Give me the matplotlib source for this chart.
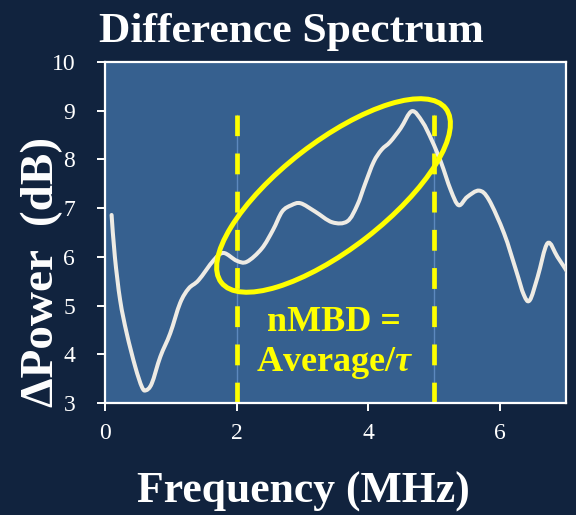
import matplotlib
matplotlib.use("Agg")
import matplotlib.pyplot as plt
from matplotlib.patches import Ellipse, PathPatch
from matplotlib.path import Path
from matplotlib.transforms import ScaledTranslation

# Difference spectrum (dB) versus frequency (MHz)
freq_mhz = [0.10, 0.15, 0.23, 0.33, 0.46, 0.56, 0.62, 0.71, 0.84, 0.99,
            1.14, 1.27, 1.42, 1.65, 1.80, 2.00, 2.155, 2.38, 2.55, 2.69,
            2.83, 2.97, 3.19, 3.45, 3.68, 3.83, 3.95, 4.08, 4.20, 4.33,
            4.49, 4.66, 4.82, 4.96, 5.10, 5.25, 5.37, 5.50, 5.68, 5.83,
            6.06, 6.24, 6.36, 6.45, 6.57, 6.72, 6.87, 7.02]
delta_power_db = [6.86, 6.00, 5.11, 4.43, 3.74, 3.33, 3.26, 3.40, 3.95, 4.43,
                  5.05, 5.35, 5.52, 5.93, 6.08, 5.92, 5.90, 6.17, 6.55, 6.93,
                  7.06, 7.10, 6.93, 6.71, 6.73, 7.06, 7.50, 7.95, 8.20, 8.36,
                  8.64, 8.99, 8.77, 8.40, 7.95, 7.37, 7.06, 7.23, 7.36, 7.17,
                  6.48, 5.73, 5.22, 5.11, 5.59, 6.28, 6.00, 5.69]

band_edges_mhz = [2.0, 5.0]
band_top_db = 8.91

x_ticks = [0, 2, 4, 6]
y_ticks = [3, 4, 5, 6, 7, 8, 9, 10]

BG = "#11233E"
FACE = "#36608F"
CURVE = "#EEEBE4"
YELLOW = "#FFFF00"
SERIF = ["Liberation Serif", "DejaVu Serif"]

plt.rcParams["font.family"] = SERIF
plt.rcParams["mathtext.fontset"] = "custom"
plt.rcParams["mathtext.it"] = "Liberation Serif:italic:bold"
plt.rcParams["mathtext.rm"] = "Liberation Serif:bold"
plt.rcParams["lines.scale_dashes"] = False


def smooth_path(xs, ys, tension=1.0 / 6.0):
    """Catmull-Rom style smoothed line through the points, as cubic Beziers."""
    pts = list(zip(xs, ys))
    n = len(pts)
    verts = [pts[0]]
    codes = [Path.MOVETO]
    for i in range(n - 1):
        p0 = pts[i - 1] if i > 0 else pts[i]
        p1 = pts[i]
        p2 = pts[i + 1]
        p3 = pts[i + 2] if i + 2 < n else pts[i + 1]
        c1 = (p1[0] + (p2[0] - p0[0]) * tension, p1[1] + (p2[1] - p0[1]) * tension)
        c2 = (p2[0] - (p3[0] - p1[0]) * tension, p2[1] - (p3[1] - p1[1]) * tension)
        verts += [c1, c2, p2]
        codes += [Path.CURVE4] * 3
    return Path(verts, codes)


fig = plt.figure(figsize=(5.76, 5.15), dpi=100, facecolor=BG)
ax = fig.add_axes([105 / 576, 1 - 403 / 515, 461 / 576, 341 / 515])
ax.set_facecolor(FACE)

# band markers
for xe in band_edges_mhz:
    ax.plot([xe, xe], [3.0, band_top_db], color="#5D89BE", lw=1.0, zorder=1.5)
    ax.plot([xe, xe], [3.0, band_top_db], color=YELLOW, lw=3.4,
            dashes=[15, 12.5], zorder=2, solid_capstyle="butt",
            dash_capstyle="butt")

# spectrum curve (smoothed line)
ax.add_patch(PathPatch(smooth_path(freq_mhz, delta_power_db), fill=False,
                       edgecolor=CURVE, lw=2.9, zorder=3,
                       joinstyle="round", capstyle="round"))

# ellipse highlighting the rising region (size in inches, centered in data)
ell_center = (3.47, 7.26)
ell = Ellipse((0, 0), width=2.84, height=1.07, angle=37.8, fill=False,
              edgecolor=YELLOW, lw=3.6, zorder=4,
              transform=fig.dpi_scale_trans + ScaledTranslation(
                  ell_center[0], ell_center[1], ax.transData))
ax.add_patch(ell)

ax.text(3.48, 4.47, "nMBD =", color=YELLOW, fontsize=26, fontweight="bold",
        ha="center", va="baseline", zorder=5)
ax.text(3.49, 3.65, r"Average/$\tau$", color=YELLOW, fontsize=26,
        fontweight="bold", ha="center", va="baseline", zorder=5)

ax.set_xlim(0, 7)
ax.set_ylim(3, 10)
ax.set_xticks(x_ticks)
ax.set_yticks(y_ticks)

for s in ax.spines.values():
    s.set_color("white")
    s.set_linewidth(1.6)

ax.tick_params(axis="both", colors="white", length=5.5, width=1.4,
               direction="out", labelsize=17)
ax.tick_params(axis="y", pad=16)
ax.tick_params(axis="x", pad=9)
for lab in ax.get_xticklabels() + ax.get_yticklabels():
    lab.set_fontfamily(SERIF)

fig.text(0.505, 1 - 41.7 / 515, "Difference Spectrum", color="white",
         fontsize=31.3, fontweight="bold", ha="center", va="baseline")
fig.text(303 / 576, 1 - 503 / 515, "Frequency (MHz)", color="white",
         fontsize=31.5, fontweight="bold", ha="center", va="baseline")
fig.text(42 / 576, 1 - 271.5 / 515, "\u0394Power  (dB)", color="white",
         fontsize=34, fontweight="bold", ha="center", va="center",
         rotation=90)

fig.savefig("out.png", dpi=100, facecolor=BG)
